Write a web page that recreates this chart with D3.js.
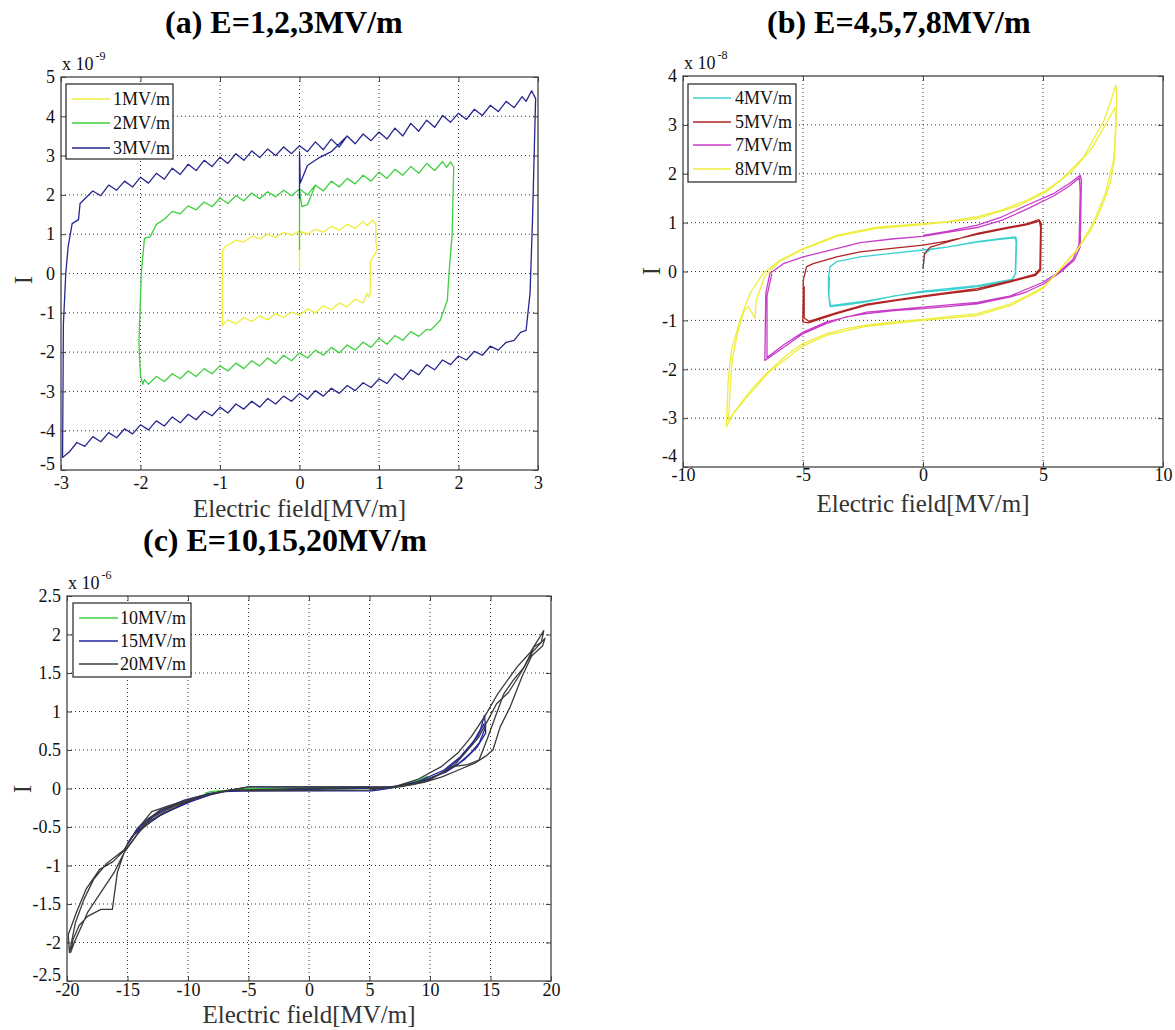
<!DOCTYPE html>
<html><head><meta charset="utf-8">
<script src="https://cdn.jsdelivr.net/npm/d3@7"></script>
<style>body{margin:0;background:#fff} svg{display:block} text{font-family:"Liberation Serif","Times New Roman",serif}</style>
</head><body><svg id="chart" width="1175" height="1030"></svg>
<script>
// ---------------- Panel (a): units 1e-9 ----------------
const aXTicks = [-3,-2,-1,0,1,2,3];
const aYTicks = [-5,-4,-3,-2,-1,0,1,2,3,4,5];
const a1 = [[0,0.1],[0,1.0],[0,1.06],[0.1,1.0],[0.2,1.12],[0.3,1.05],[0.4,1.2],[0.5,1.1],[0.6,1.25],[0.7,1.15],[0.8,1.32],[0.85,1.22],[0.92,1.36],[0.96,1.26],[0.96,0.8],[0.98,0.6],[0.89,0.3],[0.89,-0.5],[0.87,-0.6],[0.85,-0.5],[0.8,-0.75],[0.7,-0.65],[0.6,-0.85],[0.5,-0.75],[0.4,-0.92],[0.3,-0.82],[0.2,-1.0],[0.1,-0.9],[0.0,-1.06],[-0.1,-0.98],[-0.2,-1.12],[-0.3,-1.02],[-0.4,-1.18],[-0.5,-1.08],[-0.6,-1.22],[-0.7,-1.12],[-0.8,-1.28],[-0.9,-1.18],[-0.97,-1.32],[-0.97,-1.1],[-0.97,0.0],[-0.97,0.55],[-0.94,0.68],[-0.85,0.78],[-0.8,0.85],[-0.7,0.8],[-0.6,0.95],[-0.5,0.88],[-0.4,1.0],[-0.3,0.92],[-0.2,1.05],[-0.1,0.97],[0.0,1.08],[0.1,1.0]];
const a2 = [[0,0.6],[0,2.1],[0.03,1.7],[0.1,1.75],[0.2,2.25],[0.3,2.1],[0.4,2.35],[0.5,2.2],[0.6,2.42],[0.7,2.28],[0.8,2.5],[0.9,2.35],[1.0,2.58],[1.1,2.42],[1.2,2.65],[1.3,2.5],[1.4,2.72],[1.5,2.55],[1.6,2.8],[1.7,2.62],[1.8,2.85],[1.85,2.7],[1.9,2.84],[1.94,2.71],[1.92,1.0],[1.88,0],[1.86,-0.68],[1.77,-1.19],[1.65,-1.44],[1.6,-1.42],[1.5,-1.6],[1.4,-1.48],[1.3,-1.7],[1.2,-1.58],[1.1,-1.8],[1.0,-1.65],[0.9,-1.88],[0.8,-1.75],[0.7,-1.95],[0.6,-1.82],[0.5,-2.02],[0.4,-1.88],[0.3,-2.08],[0.2,-1.95],[0.1,-2.15],[0.0,-2.02],[-0.1,-2.22],[-0.2,-2.08],[-0.3,-2.3],[-0.4,-2.15],[-0.5,-2.35],[-0.6,-2.22],[-0.7,-2.42],[-0.8,-2.28],[-0.9,-2.48],[-1.0,-2.35],[-1.1,-2.55],[-1.2,-2.42],[-1.3,-2.62],[-1.4,-2.48],[-1.5,-2.68],[-1.6,-2.55],[-1.7,-2.75],[-1.8,-2.62],[-1.9,-2.82],[-1.95,-2.7],[-1.97,-2.82],[-2.0,-2.6],[-2.02,-1.78],[-1.99,0],[-1.95,0.9],[-1.88,0.93],[-1.8,1.25],[-1.7,1.38],[-1.6,1.58],[-1.5,1.52],[-1.4,1.72],[-1.3,1.62],[-1.2,1.82],[-1.1,1.7],[-1.0,1.92],[-0.9,1.78],[-0.8,1.98],[-0.7,1.85],[-0.6,2.05],[-0.5,1.9],[-0.4,2.08],[-0.3,1.95],[-0.2,2.12],[-0.1,1.98],[0.0,2.15],[0.1,2.0],[0.2,2.25]];
const a3 = [[0,1.9],[0,3.1],[0.01,2.3],[0.1,2.75],[0.25,2.95],[0.4,3.1],[0.6,3.5],[0.7,3.3],[0.8,3.55],[0.9,3.38],[1.0,3.6],[1.1,3.42],[1.2,3.7],[1.3,3.5],[1.4,3.82],[1.5,3.62],[1.6,3.9],[1.7,3.72],[1.8,4.02],[1.9,3.85],[2.0,4.08],[2.1,3.92],[2.2,4.18],[2.3,4.02],[2.4,4.28],[2.5,4.12],[2.6,4.38],[2.7,4.22],[2.8,4.5],[2.85,4.38],[2.92,4.65],[2.97,4.45],[2.93,1.3],[2.9,-0.5],[2.85,-1.45],[2.78,-1.5],[2.7,-1.7],[2.6,-1.75],[2.5,-1.95],[2.4,-1.85],[2.3,-2.08],[2.2,-1.98],[2.1,-2.2],[2.0,-2.1],[1.9,-2.32],[1.8,-2.2],[1.7,-2.45],[1.6,-2.32],[1.5,-2.58],[1.4,-2.45],[1.3,-2.7],[1.2,-2.55],[1.1,-2.8],[1.0,-2.68],[0.9,-2.9],[0.8,-2.78],[0.7,-2.98],[0.6,-2.85],[0.5,-3.05],[0.4,-2.92],[0.3,-3.12],[0.2,-2.98],[0.1,-3.2],[0.0,-3.05],[-0.1,-3.25],[-0.2,-3.12],[-0.3,-3.32],[-0.4,-3.18],[-0.5,-3.4],[-0.6,-3.25],[-0.7,-3.45],[-0.8,-3.32],[-0.9,-3.55],[-1.0,-3.4],[-1.1,-3.62],[-1.2,-3.5],[-1.3,-3.72],[-1.4,-3.58],[-1.5,-3.8],[-1.6,-3.65],[-1.7,-3.88],[-1.8,-3.75],[-1.9,-3.98],[-2.0,-3.85],[-2.1,-4.08],[-2.2,-3.95],[-2.3,-4.18],[-2.4,-4.05],[-2.5,-4.28],[-2.6,-4.15],[-2.7,-4.4],[-2.8,-4.3],[-2.9,-4.55],[-2.98,-4.68],[-2.98,-4.6],[-2.97,-1.3],[-2.94,0],[-2.91,0.68],[-2.86,1.27],[-2.78,1.37],[-2.76,1.78],[-2.7,1.9],[-2.6,2.1],[-2.5,1.98],[-2.4,2.25],[-2.3,2.12],[-2.2,2.35],[-2.1,2.2],[-2.0,2.45],[-1.9,2.3],[-1.8,2.55],[-1.7,2.4],[-1.6,2.68],[-1.5,2.52],[-1.4,2.78],[-1.3,2.62],[-1.2,2.88],[-1.1,2.72],[-1.0,2.96],[-0.9,2.8],[-0.8,3.05],[-0.7,2.88],[-0.6,3.12],[-0.5,2.95],[-0.4,3.17],[-0.3,3.0],[-0.2,3.22],[-0.1,3.05],[0.0,3.25],[0.1,3.1],[0.2,3.35],[0.3,3.15],[0.4,3.42],[0.5,3.22],[0.6,3.5]];
const aLabels = ["1MV/m","2MV/m","3MV/m"];
const aColors = ["#eeee3a","#3fcf3f","#262690"];

// ---------------- Panel (b): units 1e-8 ----------------
const bXTicks = [-10,-5,0,5,10];
const bYTicks = [-4,-3,-2,-1,0,1,2,3,4];
const b4 = [[0,0.06],[0.07,0.35],[0.3,0.45],[1,0.5],[2.26,0.61],[3.2,0.67],[3.86,0.71],[3.9,0.64],[3.86,-0.04],[3.72,-0.18],[3,-0.25],[2.26,-0.31],[1,-0.38],[0,-0.42],[-1.2,-0.5],[-2.34,-0.62],[-3.2,-0.68],[-3.87,-0.72],[-3.94,-0.45],[-3.94,-0.11],[-3.87,0.1],[-3.6,0.2],[-2.62,0.3],[-1.3,0.37],[0,0.44],[1,0.5],[2.26,0.6],[3.2,0.66],[3.84,0.69],[3.88,0.6],[3.84,-0.06],[3.7,-0.16],[2.26,-0.29],[0,-0.4],[-2.34,-0.6],[-3.85,-0.7],[-3.92,-0.5],[-3.9,-0.1]];
const b5 = [[0,0.06],[0.06,0.37],[0.31,0.5],[1,0.6],[2.26,0.78],[3.3,0.88],[4.35,0.98],[4.83,1.06],[4.93,0.98],[4.9,0.03],[4.69,-0.08],[3.65,-0.21],[2.26,-0.38],[1,-0.45],[0,-0.52],[-1.2,-0.6],[-2.34,-0.69],[-3.6,-0.86],[-4.2,-0.96],[-4.78,-1.05],[-5.01,-1.03],[-4.99,-0.45],[-4.99,-0.18],[-4.85,0.1],[-4.57,0.16],[-3.6,0.3],[-2.62,0.4],[-1.2,0.48],[0,0.54],[1,0.62],[2.26,0.76],[3.3,0.86],[4.35,0.96],[4.85,1.03],[4.9,0.9],[4.87,0.05],[4.65,-0.06],[3.65,-0.19],[2.26,-0.35],[0,-0.5],[-2.34,-0.67],[-3.6,-0.84],[-4.76,-1.02],[-4.95,-0.95],[-4.95,-0.3]];
const b7 = [[0,0.74],[1,0.82],[2.26,0.95],[3.3,1.12],[4.35,1.36],[5.46,1.6],[6.1,1.8],[6.55,1.97],[6.6,1.87],[6.55,0.5],[6.3,0.23],[5.74,-0.01],[5.04,-0.25],[4.3,-0.42],[3.65,-0.52],[2.26,-0.66],[1,-0.72],[0,-0.76],[-1.2,-0.8],[-2.34,-0.86],[-3.2,-0.93],[-4.01,-1.06],[-4.99,-1.27],[-5.8,-1.55],[-6.59,-1.82],[-6.55,-0.45],[-6.38,-0.04],[-5.82,0.16],[-4.99,0.3],[-3.6,0.47],[-2.62,0.59],[-1.2,0.67],[0,0.72],[1,0.8],[2.26,0.9],[3.3,1.05],[4.35,1.28],[5.46,1.55],[6.1,1.75],[6.52,1.92],[6.55,1.6],[6.5,0.55],[6.25,0.25],[5.7,0.0],[5.0,-0.22],[3.65,-0.5],[2.26,-0.63],[0,-0.73],[-2.34,-0.83],[-4.01,-1.03],[-4.99,-1.24],[-5.8,-1.5],[-6.5,-1.76],[-6.5,-0.5],[-6.3,-0.05]];
const b8 = [[0,0.98],[1,1.02],[2.26,1.12],[3.3,1.26],[4.35,1.46],[5.1,1.65],[5.74,1.87],[6.2,2.1],[6.71,2.35],[7.1,2.7],[7.55,3.1],[7.8,3.45],[8.04,3.82],[8.07,3.51],[7.97,2.28],[7.8,1.8],[7.55,1.46],[7.3,1.15],[6.99,0.85],[6.43,0.44],[5.74,0.06],[5.04,-0.31],[4.35,-0.5],[3.65,-0.66],[2.26,-0.86],[1,-0.93],[0,-0.98],[-1.2,-1.03],[-2.34,-1.1],[-3.2,-1.17],[-4.01,-1.27],[-4.99,-1.47],[-5.7,-1.72],[-6.38,-2.02],[-7.0,-2.33],[-7.49,-2.63],[-7.9,-2.9],[-8.19,-3.18],[-8.12,-2.23],[-7.98,-1.61],[-7.63,-1.0],[-7.42,-0.72],[-7.21,-0.45],[-6.66,-0.04],[-5.96,0.23],[-4.99,0.47],[-4.3,0.6],[-3.6,0.74],[-1.92,0.91],[0,0.98]];
const b8b = [[-8.1,-3.05],[-8.05,-2.5],[-7.95,-1.8],[-7.7,-1.2],[-7.45,-0.8],[-7.28,-0.72],[-7.0,-0.96],[-6.95,-0.6],[-6.6,-0.1],[-6.0,0.2],[-5,0.45],[-3.6,0.72],[-2,0.88],[0,0.96],[2.26,1.08],[4,1.35],[5.2,1.65],[6.2,2.05],[7,2.5],[7.6,3.0],[8.0,3.35],[8.05,3.0],[7.95,2.3],[7.6,1.6],[7.1,1.0],[6.5,0.5],[5.8,0.1],[5.0,-0.35],[3.65,-0.7],[2.26,-0.9],[0,-1.0],[-2.34,-1.12],[-4,-1.3],[-5,-1.52],[-6.4,-2.05],[-7.3,-2.55],[-7.9,-2.9],[-8.1,-3.05]];
const bLabels = ["4MV/m","5MV/m","7MV/m","8MV/m"];
const bColors = ["#3cd0d0","#b02424","#c83cc8","#eeee3a"];

// ---------------- Panel (c): units 1e-6 ----------------
const cXTicks = [-20,-15,-10,-5,0,5,10,15,20];
const cYTicks = [-2.5,-2,-1.5,-1,-0.5,0,0.5,1,1.5,2,2.5];
const c10 = [[-8.6,-0.06],[-8.1,-0.04],[-7.5,-0.03],[-6.5,-0.02],[-5,-0.01],[0,-0.01],[5,0],[6.5,0.01],[7.6,0.04],[8.9,0.1],[9.8,0.16],[9.2,0.1],[8.2,0.05],[7,0.01],[5,0.01],[0,0.01],[-5,0.0],[-6.8,-0.02],[-8.2,-0.07],[-8.6,-0.06]];
const c15 = [[-5.2,-0.03],[5.2,-0.03],[6.5,0],[7.5,0.03],[9,0.08],[10,0.12],[11.2,0.22],[12.5,0.4],[13.5,0.58],[14.2,0.78],[14.5,0.95],[14.6,0.8],[14.1,0.6],[13.3,0.45],[12.2,0.3],[11,0.2],[9.5,0.1],[8,0.04],[6.5,0.02],[5,0.02],[-5,0.02],[-6.5,-0.02],[-8,-0.07],[-9.5,-0.13],[-10.8,-0.2],[-12,-0.28],[-13.2,-0.38],[-14.2,-0.52],[-14.8,-0.68],[-15.1,-0.75],[-14.5,-0.6],[-13.5,-0.48],[-12.3,-0.35],[-11,-0.25],[-9.8,-0.16],[-8.5,-0.09],[-7,-0.04],[-5.2,-0.03]];
const c15b = [[5,0],[7,0.02],[9,0.09],[11.16,0.24],[12.5,0.41],[13.9,0.67],[14.46,0.84],[14.6,0.76],[14.6,0.72],[13.9,0.54],[12.8,0.37],[11.4,0.22],[8.95,0.07],[6.5,0.01],[-6.47,-0.03],[-8.1,-0.06],[-10.3,-0.15],[-12.26,-0.28],[-13.9,-0.49],[-15.0,-0.71],[-14.6,-0.62],[-13.1,-0.41],[-11.4,-0.28],[-9.78,-0.17],[-8.1,-0.08],[-6.5,-0.02]];
const c20 = [[5,0],[7,0.02],[9,0.12],[10.9,0.28],[12.3,0.46],[13.4,0.67],[14.5,0.93],[15.6,1.23],[17.2,1.58],[18.3,1.77],[19.4,2.05],[19.2,1.9],[18.6,1.84],[17.8,1.58],[16.9,1.41],[16.1,1.23],[15.3,0.89],[14.7,0.63],[14.05,0.37],[13.1,0.31],[11.7,0.28],[10,0.11],[8.5,0.05],[7,0.02],[5,-0.02],[-5,-0.03],[-6.5,-0.02],[-8.4,-0.08],[-10.3,-0.17],[-12.3,-0.28],[-13.4,-0.41],[-14.7,-0.71],[-15.2,-0.81],[-16.1,-1.09],[-17.2,-1.35],[-18.3,-1.61],[-19.4,-2.0],[-19.7,-2.13],[-19.5,-1.96],[-19.0,-1.78],[-18.3,-1.66],[-17.2,-1.57],[-16.25,-1.57],[-15.84,-1.09],[-15.3,-0.84],[-14,-0.55],[-12.5,-0.36],[-10.5,-0.2],[-8.5,-0.08],[-6.5,-0.02],[-5,0.02],[5,0.02]];
const c20b = [[6.8,0.01],[8.5,0.06],[10,0.13],[11,0.2],[12,0.3],[13,0.48],[14,0.66],[15,0.95],[15.5,1.1],[16.5,1.25],[17.5,1.5],[18.5,1.78],[19.5,1.95],[19.3,1.85],[18.4,1.72],[17.6,1.45],[16.6,1.05],[15.8,0.8],[15.2,0.5],[14.6,0.42],[13.7,0.33],[12.5,0.25],[11,0.15],[9.5,0.08],[7.5,0.02],[0,0],[-6.5,-0.02],[-9,-0.1],[-11.5,-0.22],[-13,-0.3],[-14.3,-0.55],[-15.3,-0.8],[-16.7,-0.97],[-17.8,-1.18],[-18.6,-1.44],[-19.3,-1.74],[-19.8,-2.13],[-19.9,-1.9],[-19.2,-1.6],[-18.4,-1.3],[-17.3,-1.05],[-16.2,-0.95],[-15.1,-0.78],[-14.2,-0.6],[-13,-0.38],[-11,-0.22],[-9,-0.1],[-7,-0.03]];
const cLabels = ["10MV/m","15MV/m","20MV/m"];
const cColors = ["#3fd03f","#2424a0","#3a3a3a"];

const svg = d3.select("#chart");

const panels = [
  {title:"(a) E=1,2,3MV/m", tx:165, ty:33, left:61, right:538, top:77, bottom:470,
   xd:[-3,3], yd:[-5,5], xt:aXTicks, yt:aYTicks, xpad:6, exp:"-9", ylabX:32, ylabY:280, xlabDy:47, lowDy:"-0.05em",
   series:[[a1,0],[a2,1],[a3,2]], labels:aLabels, colors:aColors,
   leg:{x:66,y:84,w:107,h:75,rows:[99,123,148],l1:72,l2:110,tx:113}},
  {title:"(b) E=4,5,7,8MV/m", tx:767, ty:33, left:683, right:1163, top:76, bottom:467,
   xd:[-10,10], yd:[-4,4], xt:bXTicks, yt:bYTicks, xpad:1, exp:"-8", ylabX:660, ylabY:271, xlabDy:45, lowDy:"-0.3em",
   series:[[b4,0],[b5,1],[b7,2],[b8,3],[b8b,3]], labels:bLabels, colors:bColors,
   leg:{x:688,y:84,w:108,h:98,rows:[98,122,145,169],l1:693,l2:731,tx:735}},
  {title:"(c) E=10,15,20MV/m", tx:143, ty:551, left:67, right:551, top:596, bottom:981,
   xd:[-20,20], yd:[-2.5,2.5], xt:cXTicks, yt:cYTicks, xpad:2, exp:"-6", ylabX:31, ylabY:789, xlabDy:42, lowDy:"-0.05em",
   series:[[c10,0],[c15,1],[c15b,1],[c20,2],[c20b,2]], labels:cLabels, colors:cColors,
   leg:{x:73,y:603,w:118,h:74,rows:[618,641,664],l1:79,l2:118,tx:120}}
];

panels.forEach(p => {
  const x = d3.scaleLinear().domain(p.xd).range([p.left, p.right]);
  const y = d3.scaleLinear().domain(p.yd).range([p.bottom, p.top]);
  const g = svg.append("g");
  g.append("text").attr("x", p.tx).attr("y", p.ty).attr("font-size", 32).attr("font-weight", "bold")
    .attr("fill", "#000").text(p.title);
  g.append("g").selectAll("line").data(p.xt.slice(1,-1)).join("line")
    .attr("x1", d => x(d)).attr("x2", d => x(d)).attr("y1", p.top).attr("y2", p.bottom)
    .attr("stroke", "#333").attr("stroke-width", 1).attr("stroke-dasharray", "1,3");
  g.append("g").selectAll("line").data(p.yt.slice(1,-1)).join("line")
    .attr("y1", d => y(d)).attr("y2", d => y(d)).attr("x1", p.left).attr("x2", p.right)
    .attr("stroke", "#333").attr("stroke-width", 1).attr("stroke-dasharray", "1,3");
  const line = d3.line().x(d => x(d[0])).y(d => y(d[1]));
  p.series.forEach(([data, ci]) => {
    g.append("path").attr("d", line(data)).attr("fill", "none")
      .attr("stroke", p.colors[ci]).attr("stroke-width", 1.3).attr("stroke-linejoin", "round");
  });
  const styleAxis = sel => {
    sel.select(".domain").remove();
    sel.selectAll("line").attr("stroke", "#444");
    sel.selectAll("text").attr("font-family", '"Liberation Serif", serif').attr("font-size", 18).attr("fill", "#111");
  };
  g.append("g").attr("transform", `translate(0,${p.bottom})`)
    .call(d3.axisBottom(x).tickValues(p.xt).tickSize(-5).tickSizeOuter(0).tickPadding(p.xpad).tickFormat(d => String(d)))
    .call(styleAxis);
  g.append("g").attr("transform", `translate(0,${p.top})`)
    .call(d3.axisTop(x).tickValues(p.xt).tickSize(-5).tickSizeOuter(0).tickFormat(""))
    .call(styleAxis);
  const yAx = g.append("g").attr("transform", `translate(${p.left},0)`)
    .call(d3.axisLeft(y).tickValues(p.yt).tickSize(-5).tickSizeOuter(0).tickPadding(6).tickFormat(d => String(d)))
    .call(styleAxis);
  yAx.selectAll(".tick text").filter(d => d === p.yd[0]).attr("dy", p.lowDy);
  g.append("g").attr("transform", `translate(${p.right},0)`)
    .call(d3.axisRight(y).tickValues(p.yt).tickSize(-5).tickSizeOuter(0).tickFormat(""))
    .call(styleAxis);
  g.append("rect").attr("x", p.left).attr("y", p.top).attr("width", p.right - p.left).attr("height", p.bottom - p.top)
    .attr("fill", "none").attr("stroke", "#444").attr("stroke-width", 1.3);
  const ex = g.append("text").attr("x", p.left + 1).attr("y", p.top - 7).attr("font-size", 18).attr("fill", "#111");
  ex.append("tspan").text("x 10");
  ex.append("tspan").attr("font-size", 12).attr("dy", -10).attr("dx", 2).text(p.exp);
  g.append("text").attr("x", (p.left + p.right) / 2).attr("y", p.bottom + p.xlabDy).attr("text-anchor", "middle")
    .attr("font-size", 25).attr("fill", "#333").text("Electric field[MV/m]");
  g.append("text").attr("transform", `translate(${p.ylabX},${p.ylabY}) rotate(-90)`).attr("text-anchor", "middle")
    .attr("font-size", 25).attr("fill", "#333").text("I");
  const L = p.leg;
  g.append("rect").attr("x", L.x).attr("y", L.y).attr("width", L.w).attr("height", L.h)
    .attr("fill", "#fff").attr("stroke", "#222").attr("stroke-width", 1.2);
  p.labels.forEach((lab, i) => {
    g.append("line").attr("x1", L.l1).attr("x2", L.l2).attr("y1", L.rows[i]).attr("y2", L.rows[i])
      .attr("stroke", p.colors[i]).attr("stroke-width", 1.5);
    g.append("text").attr("x", L.tx).attr("y", L.rows[i]).attr("dy", "0.35em").attr("font-size", 18)
      .attr("fill", "#111").text(lab);
  });
});
</script></body></html>
